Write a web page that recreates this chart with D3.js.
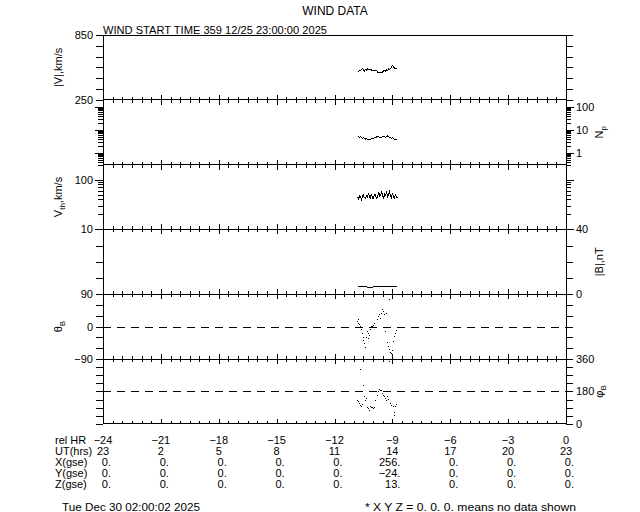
<!DOCTYPE html>
<html><head><meta charset="utf-8">
<script src="https://cdn.jsdelivr.net/npm/d3@7"></script>
<style>
body{margin:0;background:#fff}
svg{display:block}
text{font-family:"Liberation Sans",Arial,sans-serif;fill:#000}
</style>
</head><body>
<svg id="c" width="640" height="512"></svg>
<script>
// ---------------- DATA ----------------
const title = "WIND DATA";
const startText = "WIND START TIME 359 12/25 23:00:00 2025";
const footLeft = "Tue Dec 30 02:00:02 2025";
const footRight = "* X Y Z = 0. 0. 0. means no data shown";

const relHr = [-24,-21,-18,-15,-12,-9,-6,-3,0];
const utHrs = ["23","2","5","8","11","14","17","20","23"];
const xGse = ["0.","0.","0.","0.","0.","256.","0.","0.","0."];
const yGse = ["0.","0.","0.","0.","0.","\u221224.","0.","0.","0."];
const zGse = ["0.","0.","0.","0.","0.","13.","0.","0.","0."];

// plasma / field time stamps (hours relative to end)
const tPlasma = [-10.80,-10.75,-10.70,-10.65,-10.60,-10.55,-10.50,-10.45,-10.40,-10.35,
  -10.30,-10.25,-10.20,-10.15,-10.10,-10.05,-10.00,-9.95,-9.90,-9.85,
  -9.80,-9.75,-9.70,-9.65,-9.60,-9.55,-9.50,-9.45,-9.40,-9.35,
  -9.30,-9.25,-9.20,-9.15,-9.10,-9.05,-9.00,-8.95,-8.90,-8.85,-8.80,-8.75];
const speed = [505,515,522,518,530,541,528,517,533,525,
  537,529,534,527,532,521,519,522,518,520,
  516,503,505,500,507,502,511,520,524,516,
  528,522,535,531,540,548,570,558,545,536,540,532];
const density = [5.6,5.0,4.6,4.9,4.4,4.2,4.5,4.1,3.9,4.0,
  3.8,3.9,3.7,3.8,4.0,3.9,4.2,4.4,4.3,4.6,
  4.9,5.1,4.8,4.5,4.3,4.6,4.9,5.2,5.0,4.7,
  5.1,5.3,4.9,4.6,4.4,4.2,4.5,4.1,3.9,3.7,3.6,3.5];
const vth = [45,41,47,44,40,46,49,43,42,47,
  44,52,48,43,50,46,41,47,52,45,
  42,48,54,46,49,56,47,43,52,49,
  55,46,50,58,48,44,51,47,42,49,46,43];
const bmag = [5.0,5.0,5.0,5.0,5.0,5.0,5.0,5.0,5.0,5.0,
  4.4,4.4,4.4,4.4,4.4,4.4,4.4,4.9,4.9,4.9,
  4.9,4.9,4.6,4.6,4.6,4.6,4.6,4.6,4.6,4.6,
  4.6,4.6,4.6,4.6,4.6,4.6,4.6,4.6,4.6,4.6,4.6,4.6];

const tTheta = [-10.85,-10.80,-10.77,-10.72,-10.68,-10.65,-10.59,-10.54,-10.50,-10.45,
  -10.42,-10.37,-10.33,-10.28,-10.25,-10.20,-10.16,-10.11,-10.06,-9.99,
  -9.94,-9.89,-9.81,-9.76,-9.71,-9.64,-9.59,-9.52,-9.47,-9.42,
  -9.37,-9.31,-9.26,-9.21,-9.16,-9.15,-9.12,-9.07,-9.03,-9.02,-8.97,-8.92,-8.86,-8.81];
const theta = [16,20,11,6,2,-6,-17,-30,-37,-46,
  -58,-29,-12,-33,-17,-24,-7,2,2,4,
  11,0,20,30,34,25,39,48,43,34,
  -12,39,-44,-54,-63,78,-70,-72,-85,-65,-40,-26,-17,-9];

const tPhi = [-10.85,-10.80,-10.75,-10.70,-10.68,-10.65,-10.58,-10.50,-10.45,-10.40,
  -10.35,-10.30,-10.25,-10.20,-10.14,-10.09,-10.04,-9.99,-9.94,-9.89,
  -9.81,-9.73,-9.68,-9.63,-9.57,-9.52,-9.47,-9.42,-9.37,-9.31,
  -9.26,-9.21,-9.17,-9.12,-9.05,-8.99,-8.93,-8.90,-8.85,-8.79];
const phi = [133,124,114,105,302,99,111,218,152,133,
  143,96,86,77,99,96,92,86,92,133,
  161,180,193,189,186,171,161,152,143,133,
  152,137,349,114,105,99,68,49,99,111];

// ---------------- LAYOUT ----------------
const svg = d3.select("#c");
const X0 = 103, X1 = 566, TOP = 35, PH = 64.8;
const x = d3.scaleLinear().domain([-24, 0]).range([X0, X1]);

svg.append("rect").attr("width",640).attr("height",512).attr("fill","#fff");

svg.append("text").attr("x", 335).attr("y", 15).attr("text-anchor","middle")
  .attr("font-size", 12).text(title);
svg.append("text").attr("x", X0).attr("y", 34).attr("font-size", 11)
  .attr("textLength", 224).attr("lengthAdjust","spacingAndGlyphs").text(startText);

const panels = [
  {type:"lin", domain:[250,850], ticks:[250,350,450,550,650,750,850], labels:[250,850], side:"left",
   label:[{t:"|V|,km/s"}], t:tPlasma, v:speed, mode:"line"},
  {type:"log", domain:[0.3,200], labels:[1,10,100], side:"right",
   label:[{t:"N"},{t:"p",sub:true}], t:tPlasma, v:density, mode:"line"},
  {type:"log", domain:[10,200], labels:[10,100], side:"left",
   label:[{t:"V"},{t:"th",sub:true},{t:",km/s"}], t:tPlasma, v:vth, mode:"line"},
  {type:"lin", domain:[0,40], ticks:[0,10,20,30,40], labels:[0,40], side:"right",
   label:[{t:"|B|,nT"}], t:tPlasma, v:bmag, mode:"line"},
  {type:"lin", domain:[-90,90], ticks:[-90,-60,-30,0,30,60,90], labels:[-90,0,90], side:"left",
   label:[{t:"\u03b8"},{t:"B",sub:true}], t:tTheta, v:theta, mode:"dot", dash:0},
  {type:"lin", domain:[0,360], ticks:[0,45,90,135,180,225,270,315,360], labels:[0,180,360], side:"right",
   label:[{t:"\u03c6"},{t:"B",sub:true}], t:tPhi, v:phi, mode:"dot", dash:180},
];

const fmt = v => (v < 0 ? "\u2212" + Math.abs(v) : String(v));

panels.forEach((p, i) => {
  const top = TOP + i * PH, bot = top + PH;
  const y = (p.type === "log" ? d3.scaleLog() : d3.scaleLinear()).domain(p.domain).range([bot, top]);
  const g = svg.append("g");

  g.append("rect").attr("x", X0).attr("y", top).attr("width", X1 - X0).attr("height", PH)
    .attr("fill","none").attr("stroke","#000").attr("stroke-width",1).attr("shape-rendering","crispEdges");

  const xt = d3.range(-24, 0.001, 0.5);
  xt.forEach(t => {
    const major = Math.abs(t % 3) < 1e-6;
    const L = major ? 5 : 3;
    const px = Math.round(x(t)) + 0.5;
    g.append("line").attr("x1",px).attr("x2",px).attr("y1",bot).attr("y2",bot - L)
      .attr("stroke","#000").attr("shape-rendering","crispEdges");
    if (i > 0) g.append("line").attr("x1",px).attr("x2",px).attr("y1",top).attr("y2",top + L)
      .attr("stroke","#000").attr("shape-rendering","crispEdges");
  });

  let ticks;
  if (p.type === "log") ticks = y.ticks().map(v => ({v, major: p.labels.includes(v) || Math.abs(Math.log10(v) % 1) < 1e-9}));
  else ticks = p.ticks.map(v => ({v, major: true}));
  ticks.forEach(tk => {
    const py = Math.round(y(tk.v)) + 0.5;
    const L = p.type === "log" ? (tk.major ? 8 : 5) : 7;
    g.append("line").attr("x1",X0).attr("x2",X0 - L).attr("y1",py).attr("y2",py)
      .attr("stroke","#000").attr("shape-rendering","crispEdges");
    g.append("line").attr("x1",X1).attr("x2",X1 + L).attr("y1",py).attr("y2",py)
      .attr("stroke","#000").attr("shape-rendering","crispEdges");
  });

  p.labels.forEach(v => {
    const py = y(v) + 4;
    if (p.side === "left")
      g.append("text").attr("x", X0 - 10).attr("y", py).attr("text-anchor","end").attr("font-size",11).text(fmt(v));
    else
      g.append("text").attr("x", X1 + 10).attr("y", py).attr("text-anchor","start").attr("font-size",11).text(fmt(v));
  });

  const cx = p.side === "left" ? 62 : 603, cy = (top + bot) / 2;
  const tt = g.append("text").attr("transform", `translate(${cx},${cy}) rotate(-90)`)
    .attr("text-anchor","middle").attr("font-size",11);
  p.label.forEach(s => {
    const ts = tt.append("tspan").text(s.t);
    if (s.sub) ts.attr("font-size",8).attr("dy",3);
    else if (s !== p.label[0]) ts.attr("dy",-3);
  });

  if (p.dash !== undefined) {
    const py = Math.round(y(p.dash)) + 0.5;
    g.append("line").attr("x1",X0).attr("x2",X1).attr("y1",py).attr("y2",py)
      .attr("stroke","#000").attr("stroke-dasharray","8,6").attr("shape-rendering","crispEdges");
  }

  const pts = p.t.map((t, k) => [x(t), y(p.v[k])]);
  if (p.mode === "line") {
    g.append("path").attr("d", d3.line()(pts)).attr("fill","none").attr("stroke","#000")
      .attr("stroke-width",1).attr("shape-rendering","crispEdges");
  } else {
    g.selectAll(null).data(pts).enter().append("rect")
      .attr("x", d => Math.round(d[0])).attr("y", d => Math.round(d[1]))
      .attr("width",1).attr("height",1).attr("fill","#000").attr("shape-rendering","crispEdges");
  }
});

// ---------------- bottom table ----------------
const rows = [
  {name:"rel HR", vals: relHr.map(fmt), anchor:"middle", dx:0},
  {name:"UT(hrs)", vals: utHrs, anchor:"middle", dx:0},
  {name:"X(gse)", vals: xGse, anchor:"end", dx:8},
  {name:"Y(gse)", vals: yGse, anchor:"end", dx:8},
  {name:"Z(gse)", vals: zGse, anchor:"end", dx:8},
];
rows.forEach((r, j) => {
  const yy = 444 + j * 11;
  svg.append("text").attr("x", 55).attr("y", yy).attr("font-size", 11).text(r.name);
  r.vals.forEach((s, k) => {
    svg.append("text").attr("x", x(relHr[k]) + r.dx).attr("y", yy).attr("text-anchor", r.anchor)
      .attr("font-size", 11).text(s);
  });
});
svg.append("text").attr("x", 62).attr("y", 511).attr("font-size", 11)
  .attr("textLength", 138).attr("lengthAdjust","spacingAndGlyphs").text(footLeft);
svg.append("text").attr("x", 365).attr("y", 511).attr("font-size", 11)
  .attr("textLength", 211).attr("lengthAdjust","spacingAndGlyphs").text(footRight);
</script>
</body></html>
